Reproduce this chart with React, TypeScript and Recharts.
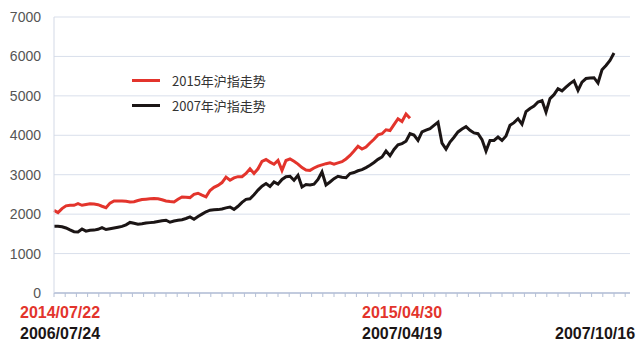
import React from 'react'
import { LineChart, Line, XAxis, YAxis, CartesianGrid, Legend } from 'recharts'

// one point every ~2 trading days, both runs aligned from their start
const sh2007 = [
  1690, 1695, 1680, 1650, 1600, 1555, 1550, 1625, 1570, 1590,
  1595, 1615, 1660, 1610, 1630, 1650, 1670, 1690, 1730, 1790,
  1770, 1745, 1755, 1775, 1785, 1795, 1815, 1830, 1845, 1795,
  1825, 1845, 1860, 1890, 1930, 1870, 1940, 2000, 2060, 2100,
  2110, 2115, 2130, 2160, 2180, 2120, 2200, 2300, 2375, 2390,
  2490, 2610, 2710, 2775, 2700, 2815, 2760, 2880, 2950, 2960,
  2860, 2985, 2690, 2750, 2740, 2760, 2880, 3070, 2740, 2815,
  2900, 2960, 2935, 2925, 3030, 3055, 3100, 3130, 3180, 3240,
  3310, 3390, 3450, 3600, 3480, 3640, 3760, 3790, 3850, 4040,
  4005, 3870, 4085, 4130, 4170, 4250, 4330, 3800, 3650, 3830,
  3950, 4085, 4160, 4220, 4125, 4060, 4040, 3890, 3600, 3870,
  3870, 3955, 3870, 3980, 4255, 4320, 4420, 4280, 4600, 4680,
  4740, 4845, 4880, 4590, 4930, 5030, 5180, 5125, 5220, 5310,
  5380, 5140, 5350, 5440, 5450, 5460, 5325, 5660, 5770, 5900,
  6085,
]

const sh2015 = [
  2095, 2040, 2140, 2210, 2225, 2225, 2265, 2225, 2245, 2265,
  2255, 2240, 2200, 2165, 2280, 2335, 2335, 2335, 2325, 2310,
  2315, 2345, 2370, 2380, 2390, 2395, 2390, 2365, 2335, 2320,
  2310, 2380, 2435, 2430, 2420, 2500, 2530, 2480, 2440, 2600,
  2680, 2730, 2800, 2940, 2860, 2920, 2950, 2950, 3030, 3150,
  3030, 3150, 3340, 3385, 3320, 3265, 3365, 3110, 3360, 3400,
  3340, 3270, 3180, 3120, 3110, 3170, 3220, 3250, 3280, 3300,
  3270, 3300, 3330, 3400, 3490, 3600, 3720, 3650, 3700, 3805,
  3900, 4010, 4040, 4140, 4120, 4270, 4420, 4350, 4540, 4430,
]

const seriesNames = ['2015年沪指走势', '2007年沪指走势']
const yTicks = [0, 1000, 2000, 3000, 4000, 5000, 6000, 7000]
const dates2015 = ['2014/07/22', '2015/04/30']
const dates2007 = ['2006/07/24', '2007/04/19', '2007/10/16']

const RED = '#e3342c'
const BLACK = '#1b1515'
const AXIS = '#b4bfd6'

const data = sh2007.map((v, i) => ({ i, y2007: v, y2015: sh2015[i] }))
const xTicks = Array.from({ length: 52 }, (_, k) => k * 2.8)

const renderLegend = () => (
  <div style={{ fontFamily: '"Noto Sans CJK SC", sans-serif', fontSize: 13, color: '#333' }}>
    {[RED, BLACK].map((c, k) => (
      <div key={k} style={{ display: 'flex', alignItems: 'center', height: 25 }}>
        <span style={{ display: 'inline-block', width: 28, height: 3, background: c, marginRight: 12 }} />
        {seriesNames[k]}
      </div>
    ))}
  </div>
)

const dateStyle: React.CSSProperties = {
  position: 'absolute',
  fontFamily: '"Liberation Sans", Arial, sans-serif',
  fontWeight: 'bold',
  fontSize: 16,
  whiteSpace: 'nowrap',
}

export default function App() {
  return (
    <div style={{ position: 'absolute', left: 0, top: 0, width: 640, height: 354, background: '#fff' }}>
      <LineChart width={640} height={304} data={data} margin={{ top: 17, right: 10, left: 10, bottom: 4 }}>
        <CartesianGrid vertical={false} stroke="#d9dfeb" />
        <XAxis
          dataKey="i"
          type="number"
          domain={[0, 144]}
          ticks={xTicks}
          interval={0}
          height={7}
          tickSize={4}
          tickFormatter={() => ''}
          axisLine={{ stroke: AXIS, strokeWidth: 1.5 }}
          tickLine={{ stroke: AXIS }}
        />
        <YAxis
          width={44}
          domain={[0, 7000]}
          ticks={yTicks}
          interval={0}
          tickSize={0}
          tickMargin={13}
          axisLine={{ stroke: '#d3d9e6' }}
          tick={{ fontSize: 14, fill: '#555', fontFamily: '"Liberation Sans", Arial, sans-serif' }}
        />
        <Legend
          content={renderLegend}
          layout="horizontal"
          verticalAlign="middle"
          align="center"
          wrapperStyle={{ left: 132, top: 68, width: 200 }}
        />
        <Line dataKey="y2015" stroke={RED} strokeWidth={3} dot={false} isAnimationActive={false} />
        <Line dataKey="y2007" stroke={BLACK} strokeWidth={3} dot={false} isAnimationActive={false} />
      </LineChart>
      <div style={{ ...dateStyle, color: RED, left: 20, top: 304 }}>{dates2015[0]}</div>
      <div style={{ ...dateStyle, color: RED, left: 362, top: 304 }}>{dates2015[1]}</div>
      <div style={{ ...dateStyle, color: BLACK, left: 20, top: 325 }}>{dates2007[0]}</div>
      <div style={{ ...dateStyle, color: BLACK, left: 362, top: 325 }}>{dates2007[1]}</div>
      <div style={{ ...dateStyle, color: BLACK, left: 555, top: 325 }}>{dates2007[2]}</div>
    </div>
  )
}
